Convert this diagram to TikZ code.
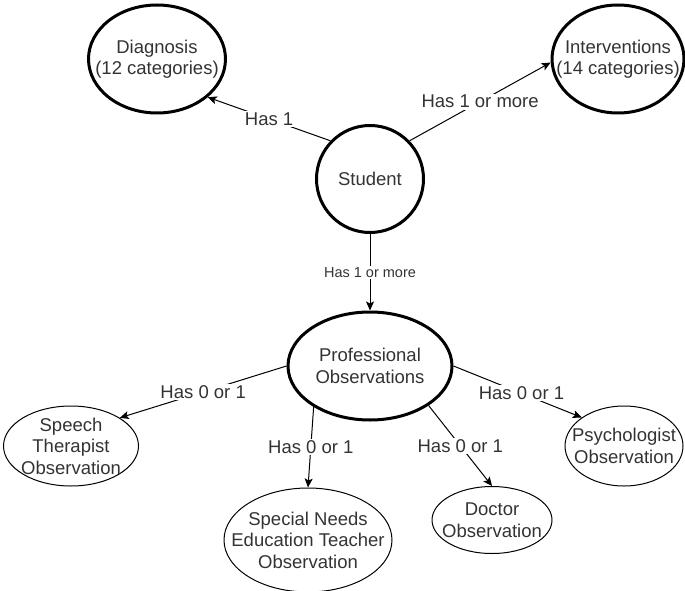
\documentclass[tikz,border=0pt]{standalone}
\usepackage{fontspec}
\setmainfont{Liberation Sans}
\usetikzlibrary{shapes.geometric, arrows.meta}
\tikzset{
  txt/.style={align=center, text=black!80, inner sep=0pt,
    font=\fontsize{18.5}{21.5}\selectfont},
  entity/.style={ellipse, draw=black, line width=3pt, inner sep=0pt},
  subentity/.style={ellipse, draw=black, line width=1pt, inner sep=0pt},
  rel/.style={line width=1pt, -{Stealth[length=9pt, width=8pt, inset=2pt]}},
  hasrel/.style={txt, fill=white, inner sep=1.5pt},
}
\begin{document}
\begin{tikzpicture}[x=1pt, y=-1pt]
  \useasboundingbox (0,0) rectangle (685,591);
  \node[entity, minimum width=137pt, minimum height=108pt,
    label={[txt]center:{Diagnosis\\(12 categories)}}] (diag) at (157,59) {};
  \node[entity, minimum width=132pt, minimum height=108pt,
    label={[txt]center:{Interventions\\(14 categories)}}] (interv) at (618,59) {};
  \node[entity, minimum width=107pt, minimum height=107pt,
    label={[txt]center:{Student}}] (stud) at (370,179) {};
  \node[entity, minimum width=164pt, minimum height=108pt,
    label={[txt]center:{Professional\\Observations}}] (prof) at (370,366) {};
  \node[subentity, minimum width=135pt, minimum height=80pt,
    label={[txt]center:{Speech\\Therapist\\Observation}}] (speech) at (71,446) {};
  \node[subentity, minimum width=168pt, minimum height=104pt,
    label={[txt]center:{Special Needs\\Education Teacher\\Observation}}] (sne) at (308,540) {};
  \node[subentity, minimum width=120pt, minimum height=67pt,
    label={[txt]center:{Doctor\\Observation}}] (doctor) at (492,520) {};
  \node[subentity, minimum width=118pt, minimum height=80pt,
    label={[txt]center:{Psychologist\\Observation}}] (psych) at (624,446) {};

  \draw[rel] (stud.136) -- node[hasrel] {Has 1} (diag.-37);
  \draw[rel] (stud.44) -- node[hasrel] {Has 1 or more} (interv.183);
  \draw[rel] (stud.south) -- node[hasrel, font=\fontsize{14.5}{17}\selectfont] {Has 1 or more} (prof.north);
  \draw[rel] (prof.west) -- node[hasrel] {Has 0 or 1} (speech.30);
  \draw[rel] (prof.216) -- node[hasrel] {Has 0 or 1} (sne.north);
  \draw[rel] (prof.-34) -- node[hasrel] {Has 0 or 1} (doctor.north);
  \draw[rel] (prof.east) -- node[hasrel, pos=0.53] {Has 0 or 1} (psych.146);
\end{tikzpicture}
\end{document}
